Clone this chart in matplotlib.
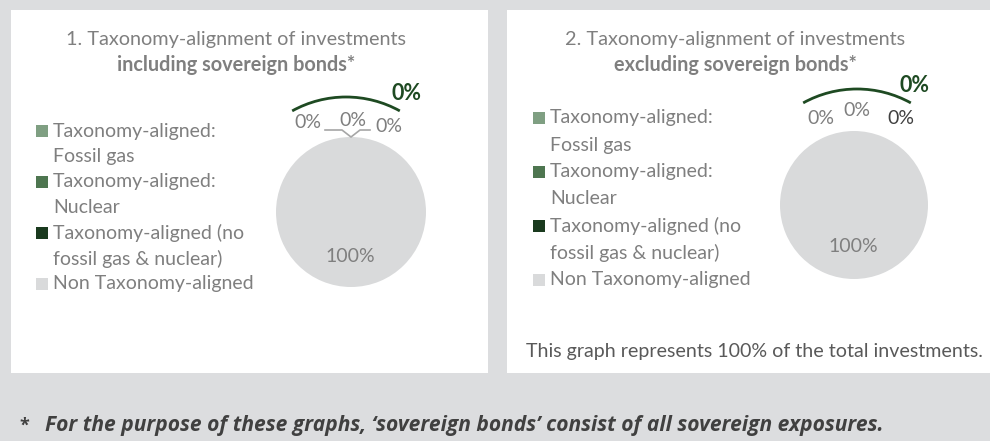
import matplotlib
matplotlib.use("Agg")
import matplotlib.pyplot as plt
from matplotlib.patches import Rectangle, Arc

plt.rcParams["font.family"] = ["Lato", "DejaVu Sans"]

# ---- data ----
categories = ["Taxonomy-aligned:\nFossil gas", "Taxonomy-aligned:\nNuclear",
              "Taxonomy-aligned (no\nfossil gas & nuclear)", "Non Taxonomy-aligned"]
colors = ["#7f9f82", "#4e7650", "#1a3a1e", "#d9dadb"]
incl_sov = [0, 0, 0, 100]      # 1. including sovereign bonds
excl_sov = [0, 0, 0, 100]      # 2. excluding sovereign bonds
aligned_total = [0, 0]         # bold arc label, per chart
titles = ["1. Taxonomy-alignment of investments", "2. Taxonomy-alignment of investments"]
subtitles = ["including sovereign bonds*", "excluding sovereign bonds*"]
note = "This graph represents 100% of the total investments."
footnote = "For the purpose of these graphs, \u2018sovereign bonds\u2019 consist of all sovereign exposures."

W, H = 990, 441
BG = "#dcdddf"
GREY = "#7f7f7f"
DARK = "#404040"
ARC = "#1e4a22"

fig = plt.figure(figsize=(W / 100, H / 100), dpi=100, facecolor=BG)

# background panels
bg = fig.add_axes([0, 0, 1, 1], zorder=0)
bg.set_xlim(0, W); bg.set_ylim(H, 0); bg.axis("off")
bg.add_patch(Rectangle((11, 10), 477, 363, fc="white", ec="none"))
bg.add_patch(Rectangle((507, 10), 500, 363, fc="white", ec="none"))


def pie_axes(cx, cy, r):
    ax = fig.add_axes([(cx - r) / W, (H - cy - r) / H, 2 * r / W, 2 * r / H], zorder=1)
    ax.set_xlim(-1, 1); ax.set_ylim(-1, 1); ax.axis("off")
    return ax


pies = [(incl_sov, 351, 212, 75), (excl_sov, 854, 205, 74)]
for vals, cx, cy, r in pies:
    ax = pie_axes(cx, cy, r)
    ax.pie(vals, colors=colors, startangle=90, counterclock=False, radius=1,
           wedgeprops=dict(linewidth=0), frame=False)
    ax.set_xlim(-1, 1); ax.set_ylim(-1, 1)

# overlay for text in pixel coordinates (y points down)
ov = fig.add_axes([0, 0, 1, 1], zorder=2)
ov.set_xlim(0, W); ov.set_ylim(H, 0); ov.axis("off"); ov.patch.set_alpha(0)

FS = 14
panel_x = [0, 497]
title_cx = [236, 735]
leg_y0 = [131, 118]
leg_dy = [25.5, 27]
for i in range(2):
    ov.text(title_cx[i], 39, titles[i], ha="center", va="center", fontsize=14.3, color=GREY)
    ov.text(title_cx[i], 65, subtitles[i], ha="center", va="center", fontsize=14.3,
            color=GREY, fontweight="bold")
    x0 = 36 + panel_x[i]
    line = 0
    for cat, col in zip(categories, colors):
        y = leg_y0[i] + line * leg_dy[i]
        ov.add_patch(Rectangle((x0, y - 6), 12, 12, fc=col, ec="none"))
        for k, part in enumerate(cat.split("\n")):
            ov.text(x0 + 17, y + k * leg_dy[i], part, ha="left", va="center",
                    fontsize=FS, color=GREY)
        line += len(cat.split("\n"))

# pie 1 labels
ov.text(308, 123, f"{incl_sov[0]}%", ha="center", va="center", fontsize=FS, color=GREY)
ov.text(353, 121, f"{incl_sov[1]}%", ha="center", va="center", fontsize=FS, color=GREY)
ov.text(389, 126, f"{incl_sov[2]}%", ha="center", va="center", fontsize=FS, color=GREY)
ov.plot([325, 342, 351, 360, 370], [130, 130, 137, 130, 130], color="#a6a6a6", lw=1.2)
ov.text(350, 257, f"{incl_sov[3]}%", ha="center", va="center", fontsize=FS, color=GREY)
ov.add_patch(Arc((346, 208), 2 * 111, 2 * 111, theta1=241, theta2=299,
                 color=ARC, lw=2))
ov.text(406, 93, f"{aligned_total[0]}%", ha="center", va="center", fontsize=15.5,
        color=ARC, fontweight="bold")

# pie 2 labels
ov.text(821, 118, f"{excl_sov[0]}%", ha="center", va="center", fontsize=FS, color=GREY)
ov.text(857, 110, f"{excl_sov[1]}%", ha="center", va="center", fontsize=FS, color=GREY)
ov.text(901, 119, f"{excl_sov[2]}%", ha="center", va="center", fontsize=FS, color=DARK)
ov.text(853, 247, f"{excl_sov[3]}%", ha="center", va="center", fontsize=FS, color=GREY)
ov.add_patch(Arc((857, 200), 2 * 111, 2 * 111, theta1=241, theta2=299,
                 color=ARC, lw=2))
ov.text(915, 85, f"{aligned_total[1]}%", ha="center", va="center", fontsize=15.5,
        color=ARC, fontweight="bold")

ov.text(526, 352, note, ha="left", va="center", fontsize=14.1, color="#595959")

ov.text(19, 426, "*", ha="left", va="center", fontsize=13, color=DARK, fontweight="bold",
        family="Open Sans")
ov.text(45, 426, footnote, ha="left", va="center", fontsize=15.1, color=DARK,
        fontweight="bold", fontstyle="italic", family="Open Sans")

fig.savefig("out.png", dpi=100, facecolor=BG)
